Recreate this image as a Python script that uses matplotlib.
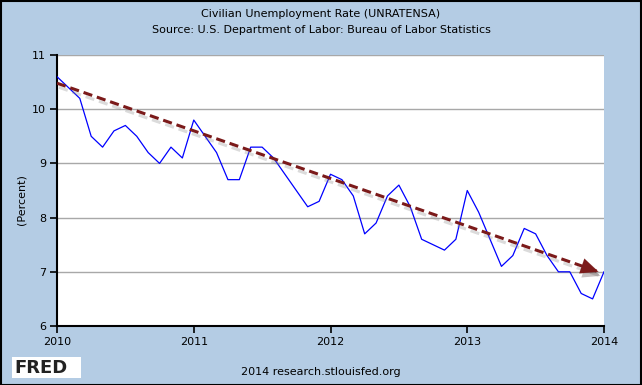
import numpy as np
import matplotlib
matplotlib.use("Agg")
import matplotlib.pyplot as plt
import matplotlib.patheffects as pe
from matplotlib.patches import Rectangle

# Civilian Unemployment Rate, not seasonally adjusted, monthly Jan 2010 - Jan 2014
rate_2010 = [10.6, 10.4, 10.2, 9.5, 9.3, 9.6, 9.7, 9.5, 9.2, 9.0, 9.3, 9.1]
rate_2011 = [9.8, 9.5, 9.2, 8.7, 8.7, 9.3, 9.3, 9.1, 8.8, 8.5, 8.2, 8.3]
rate_2012 = [8.8, 8.7, 8.4, 7.7, 7.9, 8.4, 8.6, 8.2, 7.6, 7.5, 7.4, 7.6]
rate_2013 = [8.5, 8.1, 7.6, 7.1, 7.3, 7.8, 7.7, 7.3, 7.0, 7.0, 6.6, 6.5]
rate_2014 = [7.0]
rates = rate_2010 + rate_2011 + rate_2012 + rate_2013 + rate_2014
months = 2010 + np.arange(len(rates)) / 12

# trend arrow (start, end)
trend_x = [2010.0, 2013.96]
trend_y = [10.48, 7.0]

year_ticks = [2010, 2011, 2012, 2013, 2014]
pct_ticks = [6, 7, 8, 9, 10, 11]

bg = "#b4cce4"
fig = plt.figure(figsize=(6.42, 3.85), dpi=100, facecolor=bg)
ax = fig.add_axes([57/642, 1 - 326/385, (604-57)/642, (326-55)/385])
ax.set_facecolor("white")

ax.plot(months, rates, color="#0000ff", lw=0.9, zorder=3)

# dashed trend arrow with soft shadow
shadow = [pe.SimpleLineShadow(offset=(1.5, -3), shadow_color="#888888", alpha=0.3), pe.Normal()]
ax.plot(trend_x, trend_y, color="#7b1a1a", lw=2.2, ls=(0, (3, 1.6)),
        zorder=4, path_effects=shadow)
ax.annotate("", xy=(trend_x[1], trend_y[1]), xytext=(trend_x[1] - 0.15, trend_y[1] + 0.132),
            arrowprops=dict(arrowstyle="-|>,head_length=0.9,head_width=0.4", color="#7b1a1a",
                            lw=0.1, shrinkA=0, shrinkB=0, mutation_scale=14,
                            path_effects=[pe.SimplePatchShadow(offset=(1.5, -3), alpha=0.25), pe.Normal()]),
            zorder=5)

ax.set_xlim(2010, 2014)
ax.set_ylim(6, 11)
ax.set_xticks(year_ticks)
ax.set_xticklabels([str(y) for y in year_ticks], fontsize=8)
ax.set_yticks(pct_ticks)
ax.set_yticklabels([str(p) for p in pct_ticks], fontsize=8)
ax.yaxis.grid(True, color="#a8a8a8", lw=1)
ax.set_axisbelow(True)
ax.tick_params(direction="out", length=5, width=1.2, colors="black", pad=3)
for s in ["top", "right"]:
    ax.spines[s].set_visible(False)
for s in ["left", "bottom"]:
    ax.spines[s].set_linewidth(1.5)

fig.text(22/642, 1 - 200/385, "(Percent)", rotation=90, ha="center", va="center", fontsize=8)
fig.text(0.5, 1 - 14/385, "Civilian Unemployment Rate (UNRATENSA)", ha="center", va="center", fontsize=8)
fig.text(0.5, 1 - 30/385, "Source: U.S. Department of Labor: Bureau of Labor Statistics",
         ha="center", va="center", fontsize=8)
fig.text(0.5, 1 - 372/385, "2014 research.stlouisfed.org", ha="center", va="center", fontsize=8)

# FRED logo
fig.patches.append(Rectangle((12/642, 1 - 378/385), 69/642, 21/385, transform=fig.transFigure,
                             facecolor="white", edgecolor="none"))
fig.text(14/642, 1 - 368/385, "FRED", ha="left", va="center", fontsize=13, fontweight="bold",
         color="#222222")
logo = fig.add_axes([66/642, 1 - 376/385, 14/642, 17/385])
logo.fill_between([0, 1, 2, 3, 4], [0.5, 1.5, 1.0, 2.2, 3.0], color="#dde6dd")
logo.plot([0, 1, 2, 3, 4], [0.5, 1.5, 1.0, 2.2, 3.0], color="#7fb27f", lw=1)
logo.plot([0, 1, 2, 3, 4], [0.2, 0.8, 0.6, 1.2, 1.6], color="#8aa0c0", lw=1)
logo.set_xlim(0, 4)
logo.set_ylim(0, 3.2)
logo.axis("off")

# border
fig.patches.append(Rectangle((0.5/642, 0.5/385), 640.5/642, 383.5/385, transform=fig.transFigure,
                             facecolor="none", edgecolor="black", lw=1.5))

fig.savefig("out.png", dpi=100, facecolor=bg)
